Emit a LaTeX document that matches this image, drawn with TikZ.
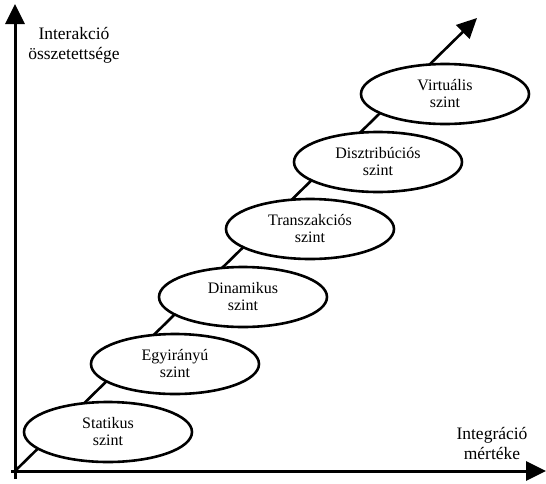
\documentclass[tikz,border=0pt]{standalone}
\usepackage{fontspec}
\setmainfont{Liberation Serif}
\usetikzlibrary{shapes.geometric,arrows.meta}
\tikzset{
  lvl/.style={ellipse, draw, fill=white, line width=2.6pt, minimum width=168pt, minimum height=60pt, inner sep=0pt, align=center, font=\fontsize{16}{17}\selectfont},
  axis/.style={line width=3pt, -{Triangle[length=20pt,width=19pt]}},
  diag/.style={line width=2.6pt, -{Triangle[length=20pt,width=19pt]}},
  lbl/.style={align=center, font=\fontsize{17.5}{20}\selectfont, inner sep=0pt}
}
\begin{document}
\begin{tikzpicture}[x=1pt,y=-1pt]
\useasboundingbox (0,0) rectangle (546,483);
\coordinate (O) at (15,471);
\coordinate (Ybot) at (15,479);
\coordinate (Ytop) at (15,4);
\coordinate (Xleft) at (11,471);
\coordinate (Xright) at (546,471);
\coordinate (D) at (477,18);
\draw[axis] (Ybot) -- (Ytop);
\draw[axis] (Xleft) -- (Xright);
\draw[diag] (O) -- (D);
\node[lbl] (ylab) at (74,45) {Interakció\\összetettsége};
\node[lbl] (xlab) at (492,443) {Integráció\\mértéke};
\node[lvl] (s1) at (108,432) {Statikus\\szint};
\node[lvl] (s2) at (175,364) {Egyirányú\\szint};
\node[lvl] (s3) at (243,297) {Dinamikus\\szint};
\node[lvl] (s4) at (310,229) {Transzakciós\\szint};
\node[lvl] (s5) at (378,162) {Disztribúciós\\szint};
\node[lvl] (s6) at (445,94) {Virtuális\\szint};
\end{tikzpicture}
\end{document}
